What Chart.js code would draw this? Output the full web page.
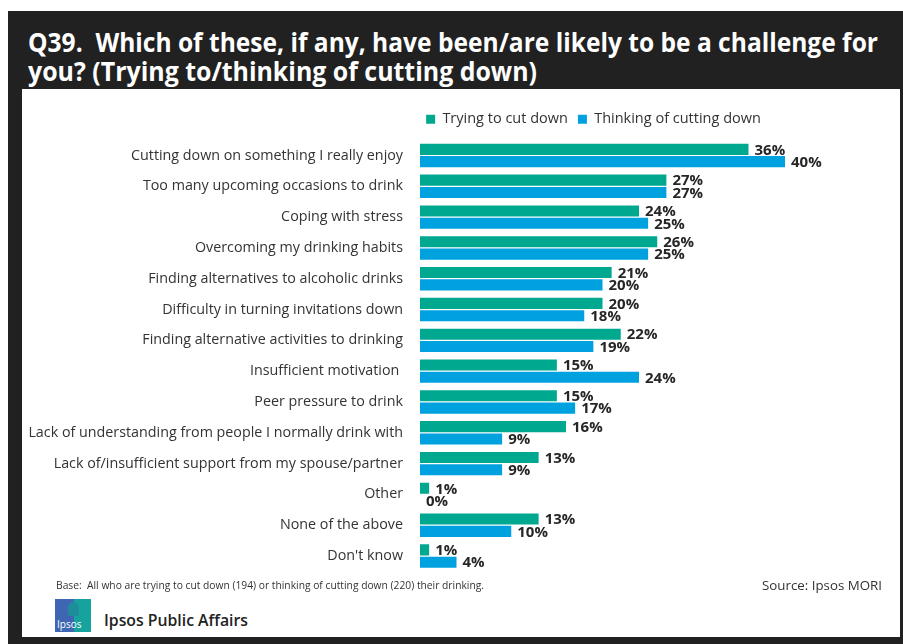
<!DOCTYPE html>
<html>
<head>
<meta charset="utf-8">
<script src="https://cdn.jsdelivr.net/npm/chart.js@4.4.1/dist/chart.umd.min.js"></script>
<style>
  html, body { margin:0; padding:0; background:#fff; }
  body { width:903px; height:644px; position:relative; overflow:hidden; font-family:"Open Sans", sans-serif; }
  #frame { position:absolute; left:8px; top:11px; width:895px; height:633px; background:#212121; }
  #inner { position:absolute; left:22px; top:89px; width:878px; height:548px; background:#fff; }
  .t { position:absolute; white-space:nowrap; transform-origin:0 50%; }
  .title { color:#fff; font-weight:700; font-size:27px; height:32px; line-height:32px; left:28px; }
  #chartc { position:absolute; left:22px; top:89px; }
  #base { left:56px; top:577px; font-size:10px; line-height:16px; color:#333; }
  #source { left:762px; top:576px; font-size:13px; line-height:18px; color:#333; }
  #ipa { left:104px; top:609px; font-size:17px; line-height:22px; font-weight:600; color:#222; }
  #logo { position:absolute; left:55px; top:599px; width:36px; height:33px; overflow:hidden;
          background:linear-gradient(90deg,#3f66b3 0%,#3f66b3 52%,#17a39d 52%,#17a39d 100%); }
  #logo .head { position:absolute; left:13px; top:3px; width:11px; height:14px; border-radius:6px 6px 3px 3px; background:#1d8d9a; }
  #logo .lt { position:absolute; left:2px; top:19px; font-size:10px; line-height:12px; color:#fff; font-family:"Open Sans",sans-serif; }
</style>
</head>
<body>
<div id="frame"></div>
<div id="inner"></div>
<div class="t title" id="t1" data-w="850" style="top:26px;">Q39.&nbsp; Which of these, if any, have been/are likely to be a challenge for</div>
<div class="t title" id="t2" data-w="509" style="top:55px;">you? (Trying to/thinking of cutting down)</div>
<canvas id="chartc" width="878" height="500"></canvas>
<div class="t" id="base" data-w="428">Base:&nbsp; All who are trying to cut down (194) or thinking of cutting down (220) their drinking.</div>
<div class="t" id="source" data-w="120">Source: Ipsos MORI</div>
<div id="logo"><div class="head"></div><div class="lt">Ipsos</div></div>
<div class="t" id="ipa" data-w="144">Ipsos Public Affairs</div>
<script>
const categories = [
  "Cutting down on something I really enjoy",
  "Too many upcoming occasions to drink",
  "Coping with stress",
  "Overcoming my drinking habits",
  "Finding alternatives to alcoholic drinks",
  "Difficulty in turning invitations down",
  "Finding alternative activities to drinking",
  "Insufficient motivation ",
  "Peer pressure to drink",
  "Lack of understanding from people I normally drink with",
  "Lack of/insufficient support from my spouse/partner",
  "Other",
  "None of the above",
  "Don't know"
];
const seriesNames = ["Trying to cut down", "Thinking of cutting down"];
const tryingToCutDown = [36, 27, 24, 26, 21, 20, 22, 15, 15, 16, 13, 1, 13, 1];
const thinkingOfCuttingDown = [40, 27, 25, 25, 20, 18, 19, 24, 17, 9, 9, 0, 10, 4];

function fitWidths() {
  document.querySelectorAll('[data-w]').forEach(el => {
    el.style.transform = 'none';
    const w = el.getBoundingClientRect().width;
    const target = parseFloat(el.getAttribute('data-w'));
    if (w > 0) el.style.transform = 'scaleX(' + (target / w) + ')';
  });
}
fitWidths();

const valueLabels = {
  id: 'valueLabels',
  afterDatasetsDraw(chart) {
    const ctx = chart.ctx;
    ctx.save();
    ctx.font = 'bold 15px "Open Sans", sans-serif';
    ctx.fillStyle = '#262626';
    ctx.textBaseline = 'middle';
    ctx.textAlign = 'left';
    chart.data.datasets.forEach((ds, i) => {
      const meta = chart.getDatasetMeta(i);
      meta.data.forEach((bar, j) => {
        ctx.fillText(ds.data[j] + '%', bar.x + 6, bar.y + 1);
      });
    });
    ctx.restore();
  }
};

const legendShift = {
  id: 'legendShift',
  afterLayout(chart) {
    const lg = chart.legend;
    if (lg) { lg.left += 190; lg.right += 190; }
  }
};

new Chart(document.getElementById('chartc'), {
  type: 'bar',
  data: {
    labels: categories,
    datasets: [
      { label: seriesNames[0], data: tryingToCutDown, backgroundColor: '#00a88f',
        categoryPercentage: 0.8, barPercentage: 0.9 },
      { label: seriesNames[1], data: thinkingOfCuttingDown, backgroundColor: '#00a1df',
        categoryPercentage: 0.8, barPercentage: 0.9 }
    ]
  },
  options: {
    indexAxis: 'y',
    responsive: false,
    animation: false,
    layout: { padding: { top: 13, right: 115, bottom: 9.6, left: 0 } },
    plugins: {
      legend: {
        position: 'top',
        labels: {
          boxWidth: 9, boxHeight: 9, padding: 10, color: '#333',
          font: { family: '"Open Sans", sans-serif', size: 14.5 }
        }
      },
      tooltip: { enabled: false }
    },
    scales: {
      x: {
        position: 'top', min: 0, max: 40,
        ticks: { display: false }, grid: { display: false }, border: { display: false },
        afterFit(s) { s.height = 3.6; }
      },
      y: {
        ticks: { color: '#333', padding: 9, font: { family: '"Open Sans", sans-serif', size: 14.3 } },
        grid: { display: false }, border: { display: false },
        afterFit(s) { s.width = 398; }
      }
    }
  },
  plugins: [valueLabels, legendShift]
});
</script>
</body>
</html>
